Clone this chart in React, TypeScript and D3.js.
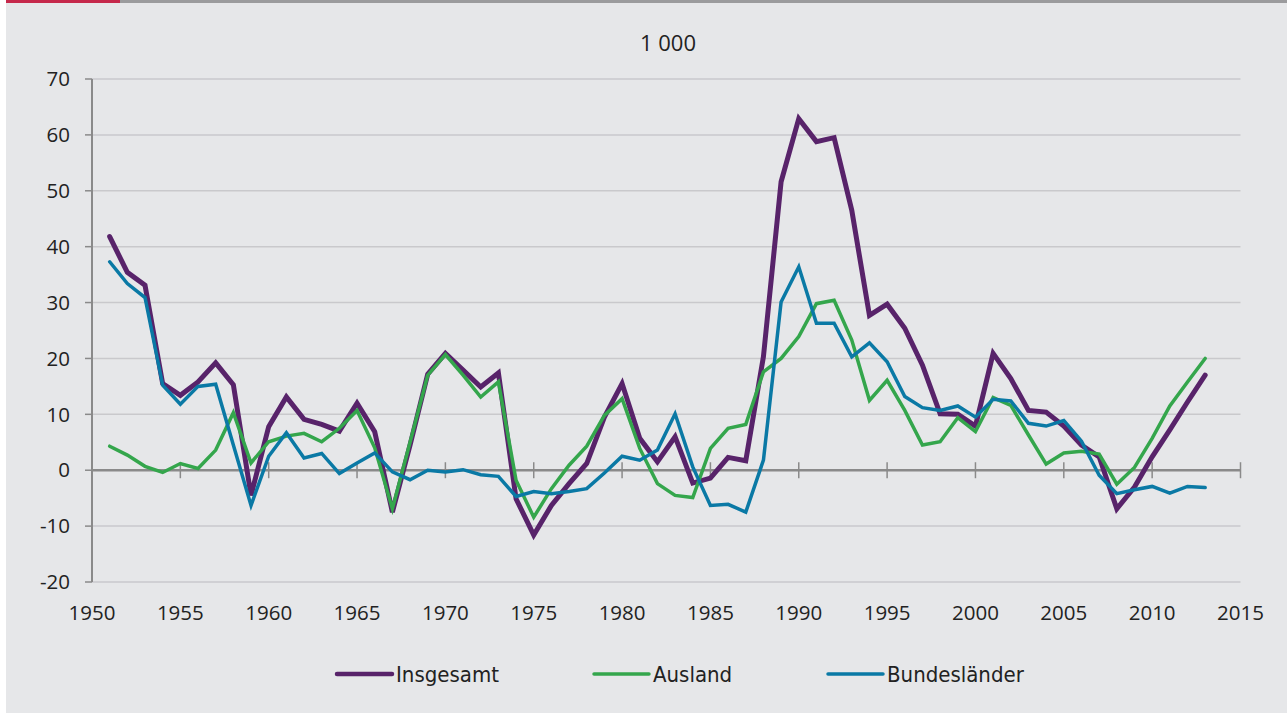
import React from "react";
import * as d3 from "d3";

const years: number[] = d3.range(1951, 2014);

const insgesamt: number[] = [
  41.8, 35.4, 33.1, 15.5, 13.4, 15.8, 19.2, 15.3, -4.5, 7.8,
  13.1, 9.1, 8.2, 7.0, 12.0, 6.9, -7.5, 4.5, 17.2, 20.9,
  17.9, 14.9, 17.4, -5.1, -11.6, -6.3, -2.4, 1.2, 9.5, 15.5,
  5.7, 1.5, 6.0, -2.3, -1.4, 2.3, 1.7, 20.3, 51.6, 62.9,
  58.8, 59.5, 46.5, 27.7, 29.7, 25.4, 18.8, 10.1, 10.0, 7.9,
  20.9, 16.4, 10.7, 10.4, 7.9, 4.5, 2.4, -6.9, -3.0, 2.4,
  7.2, 12.2, 17.0,
];

const ausland: number[] = [
  4.3, 2.7, 0.7, -0.4, 1.2, 0.3, 3.6, 10.3, 1.3, 5.1,
  6.1, 6.6, 5.1, 7.5, 10.7, 4.0, -6.9, 5.0, 17.0, 20.7,
  17.0, 13.1, 15.8, -1.8, -8.4, -3.3, 0.9, 4.3, 9.8, 12.8,
  3.9, -2.4, -4.5, -4.9, 3.9, 7.5, 8.2, 17.6, 20.0, 23.9,
  29.8, 30.4, 23.3, 12.5, 16.1, 10.7, 4.5, 5.1, 9.4, 6.9,
  13.0, 11.6, 6.3, 1.1, 3.1, 3.4, 2.9, -2.5, 0.5, 5.7,
  11.5, 15.8, 20.0,
];

const bundeslaender: number[] = [
  37.3, 33.4, 30.9, 15.2, 11.8, 15.0, 15.4, 4.5, -6.3, 2.5,
  6.7, 2.2, 3.0, -0.6, 1.3, 3.1, -0.3, -1.7, 0.0, -0.3,
  0.1, -0.8, -1.1, -4.7, -3.8, -4.2, -3.8, -3.3, -0.5, 2.5,
  1.8, 3.6, 10.1, 0.6, -6.3, -6.1, -7.5, 1.8, 30.1, 36.4,
  26.3, 26.3, 20.3, 22.8, 19.4, 13.2, 11.2, 10.7, 11.5, 9.5,
  12.7, 12.4, 8.4, 7.9, 8.9, 5.2, -0.9, -4.2, -3.5, -2.9,
  -4.1, -2.9, -3.1,
];

const yTicks: number[] = [-20, -10, 0, 10, 20, 30, 40, 50, 60, 70];
const xTicks: number[] = [1950, 1955, 1960, 1965, 1970, 1975, 1980, 1985, 1990, 1995, 2000, 2005, 2010, 2015];
const unitLabel = "1 000";

const seriesNames = ["Insgesamt", "Ausland", "Bundesländer"];
const seriesColors = ["#58236a", "#34a64c", "#0a79a5"];
const seriesWidths = [5, 3.5, 3.5];

const W = 1287;
const H = 713;

export default function App() {
  const x = d3.scaleLinear().domain([1950, 2015]).range([92, 1240.5]);
  const y = d3.scaleLinear().domain([-20, 70]).range([582, 79]);
  const allSeries = [insgesamt, ausland, bundeslaender];
  const line = d3
    .line<number>()
    .x((_, i) => x(years[i]))
    .y((d) => y(d));

  const tickFont = "'Open Sans', 'Noto Sans', sans-serif";
  const legendFont = "'Liberation Sans Narrow', 'DejaVu Sans Condensed', 'Roboto', sans-serif";
  const legendX = [337, 594, 828];

  return (
    <div style={{ position: "absolute", left: 0, top: 0 }}>
      <svg width={W} height={H} style={{ display: "block" }}>
        <rect x={0} y={0} width={W} height={H} fill="#ffffff" />
        <rect x={6} y={0} width={W - 6} height={H} fill="#e6e7e9" />
        <rect x={6} y={0} width={114} height={3} fill="#c5284b" />
        <rect x={120} y={0} width={W - 120} height={3} fill="#9b9b9d" />

        <text x={668} y={51} textAnchor="middle" fontFamily={tickFont} fontSize={22} fill="#222">
          {unitLabel}
        </text>

        {yTicks.map((t) => (
          <g key={"y" + t}>
            {t !== 0 && (
              <line x1={92} x2={1240.5} y1={y(t)} y2={y(t)} stroke="#c9c9cc" strokeWidth={1.5} />
            )}
            <line x1={85} x2={92} y1={y(t)} y2={y(t)} stroke="#8a8a8a" strokeWidth={1.5} />
            <text
              x={70}
              y={y(t)}
              dy="0.35em"
              textAnchor="end"
              fontFamily={tickFont}
              fontSize={20.5}
              fill="#222"
            >
              {t}
            </text>
          </g>
        ))}
        <line x1={92} x2={92} y1={y(70)} y2={y(-20)} stroke="#8a8a8a" strokeWidth={2} />

        <line x1={92} x2={1240.5} y1={y(0)} y2={y(0)} stroke="#8a8a8a" strokeWidth={2.5} />
        {xTicks.map((t) => (
          <g key={"x" + t}>
            {t !== 1950 && (
              <line x1={x(t)} x2={x(t)} y1={y(0) - 8} y2={y(0) + 8} stroke="#8a8a8a" strokeWidth={1.5} />
            )}
            <text x={x(t)} y={620} textAnchor="middle" fontFamily={tickFont} fontSize={20.5} fill="#222">
              {t}
            </text>
          </g>
        ))}

        {allSeries.map((s, i) => (
          <path
            key={seriesNames[i]}
            d={line(s) || ""}
            fill="none"
            stroke={seriesColors[i]}
            strokeWidth={seriesWidths[i]}
            strokeLinejoin="miter"
            strokeLinecap="round"
          />
        ))}

        {seriesNames.map((n, i) => (
          <g key={"leg" + n}>
            <line
              x1={legendX[i]}
              x2={legendX[i] + 55}
              y1={674}
              y2={674}
              stroke={seriesColors[i]}
              strokeWidth={i === 0 ? 4.5 : 3.5}
              strokeLinecap="round"
            />
            <text x={legendX[i] + 59} y={682} fontFamily={legendFont} fontSize={22} fill="#222">
              {n}
            </text>
          </g>
        ))}
      </svg>
    </div>
  );
}
